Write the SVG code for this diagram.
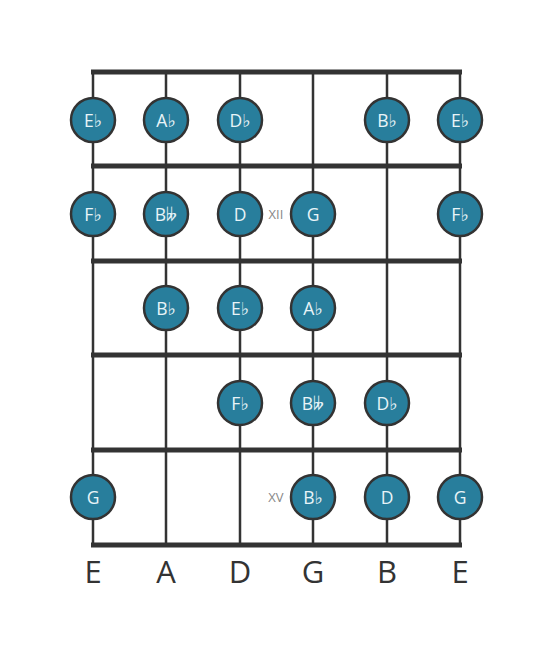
<svg xmlns="http://www.w3.org/2000/svg" width="553" height="656" viewBox="0 0 553 656">
<style>
.str{stroke:#333;stroke-width:2.5}
.fret{stroke:#333;stroke-width:5}
.n circle{fill:#287e9c;stroke:#333;stroke-width:2.5}
.n text{fill:#e8f4f8;font-family:"Open Sans","DejaVu Sans",sans-serif;font-size:17.5px;text-anchor:middle;dominant-baseline:central}
.lbl{fill:#333;font-family:"Open Sans","DejaVu Sans",sans-serif;font-size:31px;text-anchor:middle}
.pos{fill:#888;font-family:"Open Sans","DejaVu Sans",sans-serif;font-size:13px;text-anchor:middle;dominant-baseline:central}
</style>
<rect width="553" height="656" fill="#fff"/>
<g id="connectors">
<line class="str" x1="93" y1="72" x2="93" y2="545"/>
<line class="str" x1="166" y1="72" x2="166" y2="545"/>
<line class="str" x1="240" y1="72" x2="240" y2="545"/>
<line class="str" x1="313" y1="72" x2="313" y2="545"/>
<line class="str" x1="387" y1="72" x2="387" y2="545"/>
<line class="str" x1="460" y1="72" x2="460" y2="545"/>
<line class="fret" x1="91" y1="72" x2="462" y2="72"/>
<line class="fret" x1="91" y1="166" x2="462" y2="166"/>
<line class="fret" x1="91" y1="261" x2="462" y2="261"/>
<line class="fret" x1="91" y1="355" x2="462" y2="355"/>
<line class="fret" x1="91" y1="450" x2="462" y2="450"/>
<line class="fret" x1="91" y1="545" x2="462" y2="545"/>
</g>
<g id="n1" class="n"><circle cx="93" cy="120" r="22"/><text x="93" y="120">E♭</text></g>
<g id="n2" class="n"><circle cx="166" cy="120" r="22"/><text x="166" y="120">A♭</text></g>
<g id="n3" class="n"><circle cx="240" cy="120" r="22"/><text x="240" y="120">D♭</text></g>
<g id="n4" class="n"><circle cx="387" cy="120" r="22"/><text x="387" y="120">B♭</text></g>
<g id="n5" class="n"><circle cx="460" cy="120" r="22"/><text x="460" y="120">E♭</text></g>
<g id="n6" class="n"><circle cx="93" cy="214" r="22"/><text x="93" y="214">F♭</text></g>
<g id="n7" class="n"><circle cx="166" cy="214" r="22"/><text x="166" y="214">B𝄫</text></g>
<g id="n8" class="n"><circle cx="240" cy="214" r="22"/><text x="240" y="214">D</text></g>
<g id="n9" class="n"><circle cx="313" cy="214" r="22"/><text x="313" y="214">G</text></g>
<g id="n10" class="n"><circle cx="460" cy="214" r="22"/><text x="460" y="214">F♭</text></g>
<g id="n11" class="n"><circle cx="166" cy="308" r="22"/><text x="166" y="308">B♭</text></g>
<g id="n12" class="n"><circle cx="240" cy="308" r="22"/><text x="240" y="308">E♭</text></g>
<g id="n13" class="n"><circle cx="313" cy="308" r="22"/><text x="313" y="308">A♭</text></g>
<g id="n14" class="n"><circle cx="240" cy="403" r="22"/><text x="240" y="403">F♭</text></g>
<g id="n15" class="n"><circle cx="313" cy="403" r="22"/><text x="313" y="403">B𝄫</text></g>
<g id="n16" class="n"><circle cx="387" cy="403" r="22"/><text x="387" y="403">D♭</text></g>
<g id="n17" class="n"><circle cx="93" cy="497" r="22"/><text x="93" y="497">G</text></g>
<g id="n18" class="n"><circle cx="313" cy="497" r="22"/><text x="313" y="497">B♭</text></g>
<g id="n19" class="n"><circle cx="387" cy="497" r="22"/><text x="387" y="497">D</text></g>
<g id="n20" class="n"><circle cx="460" cy="497" r="22"/><text x="460" y="497">G</text></g>
<text class="pos" x="276" y="214">XII</text>
<text class="pos" x="276" y="497">XV</text>
<g id="labels">
<text class="lbl" x="93" y="583">E</text>
<text class="lbl" x="166" y="583">A</text>
<text class="lbl" x="240" y="583">D</text>
<text class="lbl" x="313" y="583">G</text>
<text class="lbl" x="387" y="583">B</text>
<text class="lbl" x="460" y="583">E</text>
</g>
</svg>
